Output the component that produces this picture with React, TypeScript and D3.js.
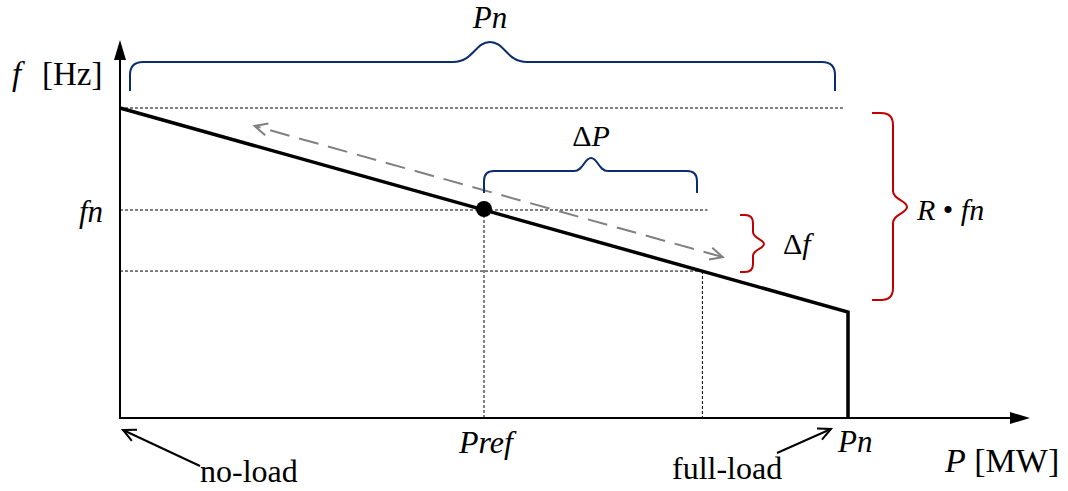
import React from "react";
import * as d3 from "d3";

// ---- data ----
const P_DOMAIN = [0, 100];
const F_DOMAIN = [0, 100];
const DROOP_P = [0, 100]; // no-load -> full-load
const DROOP_F = [100, 34.2];
const PREF = 50;
const FN = 67.1;
const P2 = 80;
const F2 = 47.4;
const SHIFT_FROM = [82.8, 51.9]; // gray dashed double arrow (P, f)
const SHIFT_TO = [18.5, 94.2];

const W = 1068;
const H = 491;
const X0 = 120;
const X1 = 848;
const Y0 = 418;
const Y1 = 108;

const NAVY = "#0c2d6b";
const RED = "#c00000";
const FONT = "'Liberation Serif', 'Times New Roman', serif";

function hBrace(xa: number, xb: number, xm: number, yEnd: number, yBar: number, yTip: number, r: number, b: number) {
  return `M${xa},${yEnd} L${xa},${yBar + r} Q${xa},${yBar} ${xa + r},${yBar} L${xm - b},${yBar} C${xm - b * 0.45},${yBar} ${xm - b * 0.4},${yTip} ${xm},${yTip} C${xm + b * 0.4},${yTip} ${xm + b * 0.45},${yBar} ${xm + b},${yBar} L${xb - r},${yBar} Q${xb},${yBar} ${xb},${yBar + r} L${xb},${yEnd}`;
}

function vBrace(ya: number, yb: number, ym: number, xEnd: number, xBar: number, xTip: number, r: number, b: number) {
  return `M${xEnd},${ya} L${xBar - r},${ya} Q${xBar},${ya} ${xBar},${ya + r} L${xBar},${ym - b} C${xBar},${ym - b * 0.45} ${xTip},${ym - b * 0.4} ${xTip},${ym} C${xTip},${ym + b * 0.4} ${xBar},${ym + b * 0.45} ${xBar},${ym + b} L${xBar},${yb - r} Q${xBar},${yb} ${xBar - r},${yb} L${xEnd},${yb}`;
}

export default function App() {
  const x = d3.scaleLinear().domain(P_DOMAIN).range([X0, X1]);
  const y = d3.scaleLinear().domain(F_DOMAIN).range([Y0, Y1]);
  const line = d3.line<number>().x((_, i) => x(DROOP_P[i])).y((_, i) => y(DROOP_F[i]));
  const droopPath = line(DROOP_P) + ` L${x(DROOP_P[1])},${y(0)}`;

  const thin = { stroke: "#000", strokeWidth: 1, strokeDasharray: "3,2", fill: "none" };

  const sx1 = x(SHIFT_FROM[0]), sy1 = y(SHIFT_FROM[1]);
  const sx2 = x(SHIFT_TO[0]), sy2 = y(SHIFT_TO[1]);
  const ang = Math.atan2(sy2 - sy1, sx2 - sx1);
  const head = (px: number, py: number, a: number) => {
    const L = 14, s = 0.45;
    return `M${px - L * Math.cos(a - s)},${py - L * Math.sin(a - s)} L${px},${py} L${px - L * Math.cos(a + s)},${py - L * Math.sin(a + s)}`;
  };
  const openHead = (fx: number, fy: number, tx: number, ty: number) => {
    const a = Math.atan2(ty - fy, tx - fx);
    return head(tx, ty, a);
  };

  return (
    <svg width={W} height={H} style={{ position: "absolute", left: 0, top: 0, background: "#fff" }} fontFamily={FONT}>
      {/* dashed guides */}
      <line x1={x(0)} x2={x(99.3)} y1={y(100)} y2={y(100)} {...thin} />
      <line x1={x(0)} x2={x(80.7)} y1={y(FN)} y2={y(FN)} {...thin} />
      <line x1={x(0)} x2={x(P2)} y1={y(F2)} y2={y(F2)} {...thin} />
      <line x1={x(PREF)} x2={x(PREF)} y1={y(FN)} y2={y(0)} {...thin} />
      <line x1={x(P2)} x2={x(P2)} y1={y(F2)} y2={y(0)} {...thin} />

      {/* axes */}
      <line x1={X0} x2={1012} y1={Y0} y2={Y0} stroke="#000" strokeWidth={2} />
      <path d={`M1030,${Y0} L1010,${Y0 - 6} L1010,${Y0 + 6} Z`} fill="#000" />
      <line x1={X0} x2={X0} y1={Y0 + 1} y2={58} stroke="#000" strokeWidth={2} />
      <path d={`M${X0},40 L${X0 - 6},60 L${X0 + 6},60 Z`} fill="#000" />

      {/* droop line */}
      <path d={droopPath} fill="none" stroke="#000" strokeWidth={3.5} strokeLinejoin="miter" />
      <circle cx={x(PREF)} cy={y(FN) - 1} r={8} fill="#000" />

      {/* gray shift arrow */}
      <line x1={sx1} y1={sy1} x2={sx2} y2={sy2} stroke="#808080" strokeWidth={2} strokeDasharray="20,10" />
      <path d={head(sx1, sy1, ang + Math.PI)} fill="none" stroke="#808080" strokeWidth={2} />
      <path d={head(sx2, sy2, ang)} fill="none" stroke="#808080" strokeWidth={2} />

      {/* braces */}
      <path d={hBrace(130, 835, 490, 91, 62, 42, 13, 37)} fill="none" stroke={NAVY} strokeWidth={2} />
      <path d={hBrace(x(PREF), 697, 591, 193, 171, 158, 10, 17)} fill="none" stroke={NAVY} strokeWidth={2} />
      <path d={vBrace(215, 272, 244, 740, 753, 764, 8, 12)} fill="none" stroke={RED} strokeWidth={2} />
      <path d={vBrace(113, 300, 207, 872, 893, 907, 12, 16)} fill="none" stroke={RED} strokeWidth={2} />

      {/* labels */}
      <text x={490} y={28} fontSize={31} fontStyle="italic" textAnchor="middle">Pn</text>
      <text x={591} y={146} fontSize={30} textAnchor="middle">Δ<tspan fontStyle="italic">P</tspan></text>
      <text x={783} y={254} fontSize={30}>Δ<tspan fontStyle="italic">f</tspan></text>
      <text x={917} y={220} fontSize={30}><tspan fontStyle="italic">R</tspan> • <tspan fontStyle="italic">fn</tspan></text>
      <text x={12} y={85} fontSize={33}><tspan fontStyle="italic">f</tspan><tspan x={42}>[Hz]</tspan></text>
      <text x={103} y={222} fontSize={31} fontStyle="italic" textAnchor="end">fn</text>
      <text x={x(PREF) + 2} y={453} fontSize={32} fontStyle="italic" textAnchor="middle">Pref</text>
      <text x={838} y={452} fontSize={31} fontStyle="italic">Pn</text>
      <text x={945} y={472} fontSize={34}><tspan fontStyle="italic">P</tspan> [MW]</text>
      <text x={200} y={482} fontSize={32}>no-load</text>
      <text x={672} y={479} fontSize={32}>full-load</text>

      {/* callout arrows */}
      <line x1={200} y1={466} x2={123} y2={430} stroke="#000" strokeWidth={2} />
      <path d={openHead(200, 466, 123, 430)} fill="none" stroke="#000" strokeWidth={2} />
      <line x1={777} y1={453} x2={831} y2={429} stroke="#000" strokeWidth={2} />
      <path d={openHead(777, 453, 831, 429)} fill="none" stroke="#000" strokeWidth={2} />
    </svg>
  );
}
